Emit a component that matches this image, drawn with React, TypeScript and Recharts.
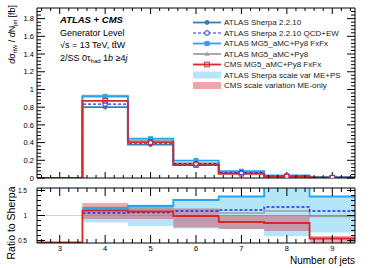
import React from 'react';
import { ComposedChart, Line, Area, XAxis, YAxis, ReferenceLine } from 'recharts';

// bins of the jet multiplicity
const binEdges = [2.5, 3.5, 4.5, 5.5, 6.5, 7.5, 8.5, 9.5];
const binCenters = [3, 4, 5, 6, 7, 8, 9];

// top panel: dsigma/dNjet [fb]
const sherpa = [0, 0.8, 0.376, 0.15, 0.055, 0.018, 0.006];
const sherpaEW = [0, 0.835, 0.395, 0.162, 0.061, 0.021, 0.0065];
const mgFxFx = [0, 0.92, 0.444, 0.197, 0.076, 0.028, 0.008];
const mgPy8 = [0, 0.93, 0.425, 0.168, 0.058, 0.02, 0.006];
const cmsFxFx = [0, 0.87, 0.406, 0.146, 0.048, 0.015, 0.003];

// ratio panel: ratio to Sherpa
const rSherpa = [null, 1, 1, 1, 1, 1, 1];
const rSherpaEW = [null, 1.05, 1.06, 1.09, 1.11, 1.17, 1.09];
const rMgFxFx = [null, 1.15, 1.19, 1.31, 1.38, 1.57, 1.38];
const rMgPy8 = [null, 1.16, 1.13, 1.12, 1.05, 1.09, 0.98];
const rCms = [0.46, 1.1, 1.08, 0.99, 0.87, 0.85, 0.54];
const sherpaBandLo = [null, 0.86, 0.79, 0.74, 0.73, 0.59, 0.66];
const sherpaBandHi = [null, 1.14, 1.22, 1.31, 1.38, 1.57, 1.38];
const cmsBandLo = [null, 0.93, 0.93, 0.76, 0.73, 0.69, 0.43];
const cmsBandHi = [null, 1.25, 1.21, 1.14, 1.01, 0.99, 0.59];

// axis ticks
const xMajor = [3, 4, 5, 6, 7, 8, 9];
const yTopMajor = [0, 0.2, 0.4, 0.6, 0.8, 1, 1.2, 1.4, 1.6, 1.8];
const yRatioMajor = [0.5, 1, 1.5];

const range = (a: number, b: number, step: number) => {
  const out: number[] = [];
  for (let v = a; v <= b + 1e-9; v += step) out.push(Math.round(v * 1000) / 1000);
  return out;
};
const xTicks = range(2.6, 9.4, 0.2);
const yTopTicks = range(0, 1.88, 0.04);
const yRatioTicks = range(0.5, 1.5, 0.1);

const FONT = '"Liberation Sans", Arial, Helvetica, sans-serif';
const C = {
  sherpa: '#3a7dae',
  ew: '#1a2cf0',
  fxfx: '#22a6f2',
  py8: '#a0a0a0',
  cms: '#d8262d',
  sBand: '#b5e6f8',
  cBand: '#d94050',
};

const last = binCenters.length - 1;
const topRows = binEdges.map((x, i) => {
  const j = Math.min(i, last);
  return { x, sherpa: sherpa[j], ew: sherpaEW[j], fxfx: mgFxFx[j], py8: mgPy8[j], cms: cmsFxFx[j] };
});
const ratioRows = binEdges.map((x, i) => {
  const j = Math.min(i, last);
  return {
    x,
    sherpa: rSherpa[j],
    ew: rSherpaEW[j],
    fxfx: rMgFxFx[j],
    py8: rMgPy8[j],
    cms: rCms[j],
    sb: sherpaBandLo[j] == null ? null : [sherpaBandLo[j], sherpaBandHi[j]],
    cb: cmsBandLo[j] == null ? null : [cmsBandLo[j], cmsBandHi[j]],
  };
});
// marker rows at the bin centres (bin 3 is empty)
const markerRows = binCenters
  .map((x, i) => ({ x, sherpa: sherpa[i], ew: sherpaEW[i], fxfx: mgFxFx[i], py8: mgPy8[i], cms: cmsFxFx[i] }))
  .filter((r) => r.sherpa > 0);

const isMajorOf = (majors: number[], v: number) => majors.some((m) => Math.abs(m - v) < 1e-6);

function Marker({ kind, cx, cy, color }: any) {
  if (cx == null || cy == null) return null;
  switch (kind) {
    case 'circle':
      return <circle cx={cx} cy={cy} r={2.4} fill={color} />;
    case 'openCircle':
      return <circle cx={cx} cy={cy} r={2.3} fill="white" stroke={color} strokeWidth={1} />;
    case 'square':
      return <rect x={cx - 2.5} y={cy - 2.5} width={5} height={5} fill={color} />;
    case 'triangle':
      return <path d={`M${cx},${cy - 2.6}L${cx + 2.5},${cy + 1.8}L${cx - 2.5},${cy + 1.8}Z`} fill={color} />;
    case 'openSquare':
      return <rect x={cx - 2.3} y={cy - 2.3} width={4.6} height={4.6} fill="none" stroke={color} strokeWidth={1} />;
    default:
      return null;
  }
}

const fmt = (v: number) => String(Number(v.toFixed(2)));

function AxisTick(props: any) {
  const { x, y, payload, side, majors, majLen, minLen, fontSize, gap, label } = props;
  const v = Number(payload.value);
  const isMajor = isMajorOf(majors, v);
  const len = isMajor ? majLen : minLen;
  let line;
  let text = null;
  if (side === 'left') {
    line = <line x1={x} y1={y} x2={x + len} y2={y} stroke="#000" strokeWidth={1} />;
    if (label && isMajor)
      text = (
        <text x={x - gap} y={y + fontSize * 0.36} textAnchor="end" fontSize={fontSize} fontFamily={FONT} fill="#000">
          {fmt(v)}
        </text>
      );
  } else if (side === 'right') {
    line = <line x1={x} y1={y} x2={x - len} y2={y} stroke="#000" strokeWidth={1} />;
  } else if (side === 'top') {
    line = <line x1={x} y1={y} x2={x} y2={y + len} stroke="#000" strokeWidth={1} />;
  } else {
    line = <line x1={x} y1={y} x2={x} y2={y - len} stroke="#000" strokeWidth={1} />;
    if (label && isMajor)
      text = (
        <text x={x} y={y + gap + fontSize * 0.72} textAnchor="middle" fontSize={fontSize} fontFamily={FONT} fill="#000">
          {fmt(v)}
        </text>
      );
  }
  return (
    <g>
      {line}
      {text}
    </g>
  );
}

const tickFn = (opts: any) => (p: any) => <AxisTick {...p} {...opts} />;

const axisLine = { stroke: '#000', strokeWidth: 1 };

function Frame({ yDomain, yTicks, yMajors, xLabels, yFont, yGap, yMaj, yMin, xMaj, xMin, hidden, leftTicks = true }: any) {
  const al = hidden ? false : axisLine;
  const tk = (o: any) => (hidden ? false : tickFn(o));
  return [
    <XAxis
      key="xb"
      dataKey="x"
      type="number"
      domain={[2.5, 9.5]}
      ticks={xTicks}
      interval={0}
      allowDataOverflow
      height={1}
      tickSize={0}
      tickMargin={0}
      tickLine={false}
      axisLine={al}
      tick={tk({ side: 'bottom', majors: xMajor, majLen: xMaj, minLen: xMin, fontSize: 7.5, gap: 3, label: xLabels })}
    />,
    <XAxis
      key="xt"
      xAxisId="top"
      dataKey="x"
      orientation="top"
      type="number"
      domain={[2.5, 9.5]}
      ticks={xTicks}
      interval={0}
      allowDataOverflow
      height={1}
      tickSize={0}
      tickMargin={0}
      tickLine={false}
      axisLine={al}
      tick={tk({ side: 'top', majors: xMajor, majLen: xMaj, minLen: xMin })}
    />,
    <YAxis
      key="yl"
      type="number"
      domain={yDomain}
      ticks={yTicks}
      interval={0}
      allowDataOverflow
      width={1}
      tickSize={0}
      tickMargin={0}
      tickLine={false}
      axisLine={al}
      tick={leftTicks ? tk({ side: 'left', majors: yMajors, majLen: yMaj, minLen: yMin, fontSize: yFont, gap: yGap, label: true }) : false}
    />,
    <YAxis
      key="yr"
      yAxisId="right"
      orientation="right"
      type="number"
      domain={yDomain}
      ticks={yTicks}
      interval={0}
      allowDataOverflow
      width={1}
      tickSize={0}
      tickMargin={0}
      tickLine={false}
      axisLine={al}
      tick={tk({ side: 'right', majors: yMajors, majLen: yMaj, minLen: yMin })}
    />,
  ];
}

const legendItems = [
  { label: 'ATLAS Sherpa 2.2.10', color: C.sherpa, marker: 'circle', dash: false, band: false },
  { label: 'ATLAS Sherpa 2.2.10 QCD+EW', color: C.ew, marker: 'openCircle', dash: true, band: false },
  { label: 'ATLAS MG5_aMC+Py8 FxFx', color: C.fxfx, marker: 'square', dash: false, band: false },
  { label: 'ATLAS MG5_aMC+Py8', color: C.py8, marker: 'triangle', dash: false, band: false },
  { label: 'CMS MG5_aMC+Py8 FxFx', color: C.cms, marker: 'openSquare', dash: false, band: false },
  { label: 'ATLAS Sherpa scale var ME+PS', color: C.sBand, marker: '', dash: false, band: true },
  { label: 'CMS scale variation ME-only', color: '#f4a3a6', marker: '', dash: false, band: true },
];

// upper pad frame: plot area 37..355 x 8..178, y range 0..1.92
const TOP_PAD = { left: 37, top: 8, bottom: 178, yMax: 1.92 };
const padY = (v: number) => TOP_PAD.bottom - (v / TOP_PAD.yMax) * (TOP_PAD.bottom - TOP_PAD.top);

function Overlay() {
  const t = { fontFamily: FONT, fill: '#000' } as any;
  return (
    <svg width={374} height={268} style={{ position: 'absolute', left: 0, top: 0, pointerEvents: 'none' }}>
      {/* left axis of the upper pad */}
      {yTopTicks.map((v) => {
        const major = isMajorOf(yTopMajor, v);
        const y = padY(v);
        return (
          <g key={`yt-${v}`}>
            <line x1={TOP_PAD.left} x2={TOP_PAD.left + (major ? 8 : 4)} y1={y} y2={y} stroke="#000" strokeWidth={1} />
            {major && (
              <text x={TOP_PAD.left - 3} y={y + 2.7} textAnchor="end" fontSize={7.5} {...t}>
                {fmt(v)}
              </text>
            )}
          </g>
        );
      })}

      <text x={60} y={22.5} fontSize={9.5} fontWeight="bold" fontStyle="italic" {...t}>
        ATLAS + CMS
      </text>
      <text x={60} y={35.5} fontSize={9} {...t}>
        Generator Level
      </text>
      <text x={60} y={48} fontSize={9} {...t}>
        √s = 13 TeV, tt̄W
      </text>
      <text x={60} y={60.5} fontSize={9} {...t}>
        2/SS 0τ
        <tspan fontSize={6} dy={2}>had</tspan>
        <tspan dy={-2}> 1</tspan>
        <tspan fontStyle="italic">b</tspan> ≥4<tspan fontStyle="italic">j</tspan>
      </text>

      {legendItems.map((it, i) => {
        const y = 22.5 + i * 10.5;
        return (
          <g key={it.label}>
            {it.band ? (
              <rect x={193} y={y - 3.5} width={28} height={7} fill={it.color} />
            ) : (
              <>
                <line
                  x1={193}
                  x2={221}
                  y1={y}
                  y2={y}
                  stroke={it.color}
                  strokeWidth={it.dash ? 1.2 : 1.8}
                  strokeDasharray={it.dash ? '3 2' : undefined}
                />
                <Marker kind={it.marker} cx={207} cy={y} color={it.color} />
              </>
            )}
            <text x={224} y={y + 2.8} fontSize={8} fontFamily={FONT} fill="#222">
              {it.label}
            </text>
          </g>
        );
      })}

      <text transform="translate(15,5) rotate(-90)" textAnchor="end" fontSize={9} fontFamily={FONT} fill="#000">
        <tspan fontStyle="italic">d</tspan>σ
        <tspan fontSize={5.5} dy={2}>tt̄W</tspan>
        <tspan dy={-2}> / </tspan>
        <tspan fontStyle="italic">d</tspan>N
        <tspan fontSize={5.5} dy={2}>jet</tspan>
        <tspan dy={-2}> [fb]</tspan>
      </text>
      <text transform="translate(15,223) rotate(-90)" textAnchor="middle" fontSize={10.5} fontFamily={FONT} fill="#000">
        Ratio to Sherpa
      </text>
      <text x={355} y={264} textAnchor="end" fontSize={10} fontFamily={FONT} fill="#000">
        Number of jets
      </text>
    </svg>
  );
}

const markerLine = (key: string, kind: string, color: string) => (
  <Line
    key={key}
    dataKey={key}
    stroke="none"
    isAnimationActive={false}
    dot={(p: any) => <Marker key={`${key}-${p.index}`} kind={kind} cx={p.cx} cy={p.cy} color={color} />}
    activeDot={false}
  />
);

const topMargin = { top: 7, right: 18, bottom: 7, left: 36 };
const topFrame = { yDomain: [0, 1.92], yTicks: yTopTicks, yMajors: yTopMajor, xLabels: false, yFont: 7.5, yGap: 3, yMaj: 8, yMin: 4, xMaj: 6, xMin: 3 };

export default function App() {
  return (
    <div style={{ position: 'absolute', left: 0, top: 0, width: 374, height: 268, background: '#fff' }}>
      <div style={{ position: 'absolute', left: 0, top: 0 }}>
        <ComposedChart width={374} height={186} data={topRows} margin={topMargin}>
          {Frame({ ...topFrame, leftTicks: false })}
          <Line dataKey="sherpa" type="stepAfter" stroke={C.sherpa} strokeWidth={1.8} dot={false} isAnimationActive={false} />
          <Line dataKey="py8" type="stepAfter" stroke={C.py8} strokeWidth={1.8} dot={false} isAnimationActive={false} />
          <Line dataKey="fxfx" type="stepAfter" stroke={C.fxfx} strokeWidth={1.8} dot={false} isAnimationActive={false} />
          <Line dataKey="ew" type="stepAfter" stroke={C.ew} strokeWidth={1.3} strokeDasharray="3 2" dot={false} isAnimationActive={false} />
          <Line dataKey="cms" type="stepAfter" stroke={C.cms} strokeWidth={1.8} dot={false} isAnimationActive={false} />
        </ComposedChart>
      </div>
      <div style={{ position: 'absolute', left: 0, top: 0 }}>
        <ComposedChart width={374} height={186} data={markerRows} margin={topMargin}>
          {Frame({ ...topFrame, hidden: true })}
          {markerLine('sherpa', 'circle', C.sherpa)}
          {markerLine('py8', 'triangle', C.py8)}
          {markerLine('fxfx', 'square', C.fxfx)}
          {markerLine('ew', 'openCircle', C.ew)}
          {markerLine('cms', 'openSquare', C.cms)}
        </ComposedChart>
      </div>
      <div style={{ position: 'absolute', left: 0, top: 178 }}>
        <ComposedChart width={374} height={90} data={ratioRows} margin={{ top: 9, right: 18, bottom: 24, left: 36 }}>
          {Frame({ yDomain: [0.45, 1.55], yTicks: yRatioTicks, yMajors: yRatioMajor, xLabels: true, yFont: 6.5, yGap: 10, yMaj: 8, yMin: 4, xMaj: 8, xMin: 4 })}
          <ReferenceLine y={1} stroke="#d4d4d4" strokeWidth={1} />
          <Area dataKey="sb" type="stepAfter" fill={C.sBand} fillOpacity={1} stroke="none" isAnimationActive={false} />
          <Area dataKey="cb" type="stepAfter" fill={C.cBand} fillOpacity={0.45} stroke="none" isAnimationActive={false} />
          <Line dataKey="py8" type="stepAfter" stroke={C.py8} strokeWidth={1.5} dot={false} isAnimationActive={false} />
          <Line dataKey="sherpa" type="stepAfter" stroke={C.sherpa} strokeWidth={1.2} strokeOpacity={0.6} dot={false} isAnimationActive={false} />
          <Line dataKey="fxfx" type="stepAfter" stroke={C.fxfx} strokeWidth={1.8} dot={false} isAnimationActive={false} />
          <Line dataKey="ew" type="stepAfter" stroke={C.ew} strokeWidth={1.3} strokeDasharray="3 2" dot={false} isAnimationActive={false} />
          <Line dataKey="cms" type="stepAfter" stroke={C.cms} strokeWidth={1.8} dot={false} isAnimationActive={false} />
        </ComposedChart>
      </div>
      <Overlay />
    </div>
  );
}
